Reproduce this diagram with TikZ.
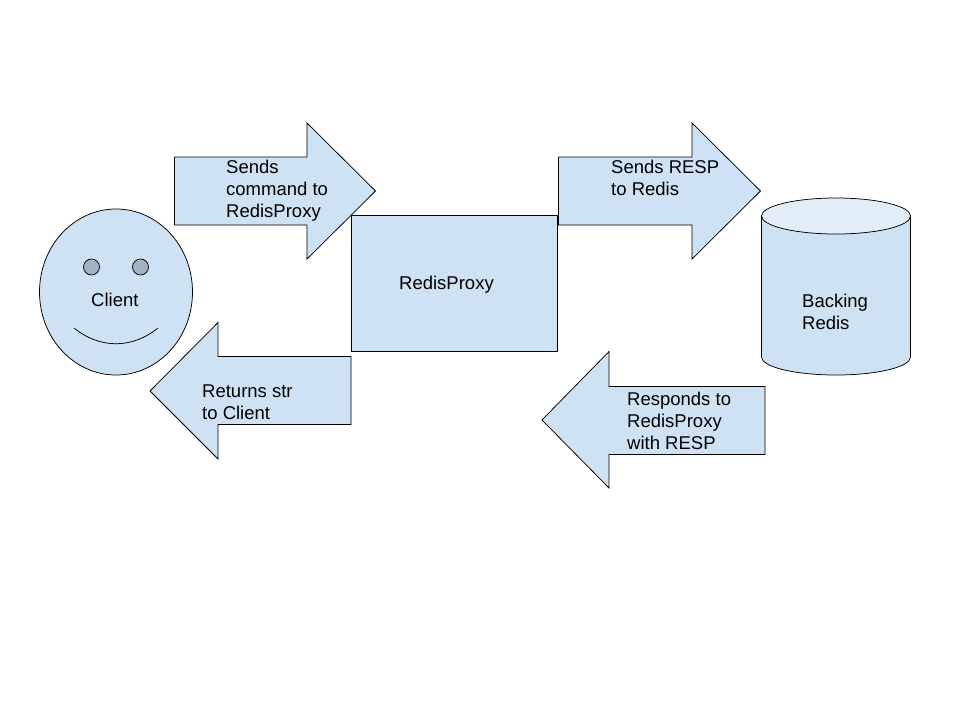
\documentclass[tikz,border=0pt]{standalone}
\usepackage{fontspec}
\setmainfont{Liberation Sans}
\usepackage{xcolor}
\usetikzlibrary{
	shapes.geometric,
	positioning
}
\definecolor{boxblue}{HTML}{CFE2F3}
\definecolor{lidblue}{HTML}{E2EDF7}
\definecolor{eyegray}{HTML}{A6B2C0}
\tikzset{
	part/.style={draw=black,fill=boxblue,line width=0.75pt,line join=miter},
	caption/.style={inner sep=0pt,align=left,anchor=north west,font=\fontsize{18.5}{22}\selectfont},
	eye/.style={part,circle,fill=eyegray,minimum size=16pt,inner sep=0pt}
}

\begin{document}
\begin{tikzpicture}[x=1pt,y=-1pt]
		\useasboundingbox[fill=white] (0,0) rectangle (960,720);

		% arrows
		\draw[part] (174.5,157) -- (307,157) -- (307,123) -- (375.5,191) -- (307,259) -- (307,225) -- (174.5,225) -- cycle;
		\draw[part] (558.5,157) -- (692,157) -- (692,123) -- (760.5,191) -- (692,259) -- (692,225) -- (558.5,225) -- cycle;
		\draw[part] (351,356.5) -- (218,356.5) -- (218,322.5) -- (150,391) -- (218,459) -- (218,424.5) -- (351,424.5) -- cycle;
		\draw[part] (765,386.5) -- (609,386.5) -- (609,351.5) -- (542,420) -- (609,488) -- (609,454.5) -- (765,454.5) -- cycle;

		\draw
			node[part,ellipse,minimum width=153pt,minimum height=166pt,inner sep=0pt] (face) at (116,292) {}
			node[eye] (eyeleft) at (91.5,267) {}
			node[eye] (eyeright) at (140.5,267) {}
			node[part,rectangle,minimum width=206pt,minimum height=136pt,anchor=north west,inner sep=0pt] (proxy) at (351,215) {}
		;
		\draw[line width=0.75pt] (74,328) .. controls (100,349) and (132,349) .. (158,328);

		% backing store
		\draw[part] (761.5,216) -- (761.5,357) arc[start angle=180,end angle=0,x radius=74.5,y radius=18] -- (910.5,216);
		\draw[part,fill=lidblue] (836,216) ellipse[x radius=74.5,y radius=18];

		% labels
		\node[caption] (sendscmd) at (226,160) {Sends\\command to\\RedisProxy};
		\node[caption] (sendsresp) at (611,160) {Sends RESP\\to Redis};
		\node[caption] (returns) at (202,385) {Returns str\\to Client};
		\node[caption] (responds) at (627,392) {Responds to\\RedisProxy\\with RESP};
		\node[caption] (proxytext) at (399,276) {RedisProxy};
		\node[caption] (clienttext) at (91,293) {Client};
		\node[caption] (backing) at (802,294) {Backing\\Redis};
	\end{tikzpicture}
\end{document}
